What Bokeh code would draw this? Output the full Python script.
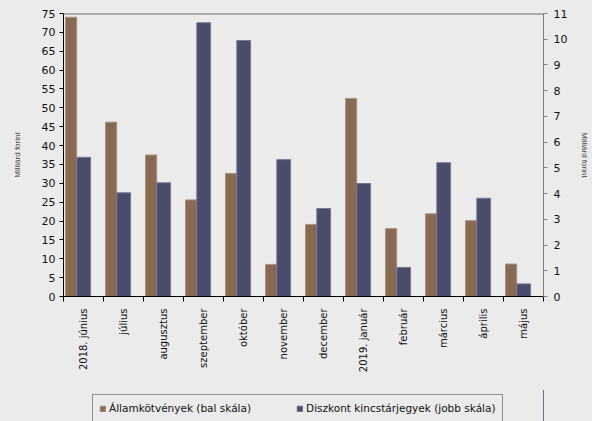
from math import pi
from bokeh.plotting import figure
from bokeh.layouts import column
from bokeh.models import (Range1d, LinearAxis, FixedTicker, ColumnDataSource,
                          Legend, LegendItem, Span)
from bokeh.transform import dodge
from bokeh.embed import file_html
from bokeh.resources import INLINE

categories = ["2018. június", "július", "augusztus", "szeptember", "október",
              "november", "december", "2019. január", "február", "március",
              "április", "május"]
allamkotvenyek = [74.0, 46.2, 37.5, 25.6, 32.6, 8.5, 19.1, 52.5, 18.0, 21.9, 20.1, 8.6]
diszkont = [5.41, 4.03, 4.42, 10.64, 9.95, 5.32, 3.42, 4.39, 1.13, 5.20, 3.82, 0.49]
left_ticks = [0, 5, 10, 15, 20, 25, 30, 35, 40, 45, 50, 55, 60, 65, 70, 75]
right_ticks = [0, 1, 2, 3, 4, 5, 6, 7, 8, 9, 10, 11]
label_left = "Államkötvények (bal skála)"
label_right = "Diszkont kincstárjegyek (jobb skála)"
axis_title = "Milliárd forint"

BG = "#EBEBEB"
BROWN = "#886A52"
BROWN_EDGE = "#A8917F"
BLUE = "#4B4B6B"
BLUE_EDGE = "#75759A"
FONT = "DejaVu Sans"

n = len(categories)
src = ColumnDataSource(dict(idx=[float(i) for i in range(n)], cat=categories,
                            allam=allamkotvenyek, disz=diszkont))

p = figure(width=592, height=390, output_backend="svg", toolbar_location=None,
           x_range=Range1d(0, n), y_range=Range1d(0, 75),
           background_fill_color=BG, border_fill_color=BG, outline_line_color=None,
           min_border_left=63, min_border_right=47, min_border_top=13,
           min_border_bottom=94)
p.extra_y_ranges = {"right": Range1d(0, 11)}
p.xgrid.visible = False
p.ygrid.visible = False

# x axis: labels at centres, ticks at category boundaries
xa = p.xaxis[0]
xa.ticker = FixedTicker(ticks=[i + 0.5 for i in range(n)], minor_ticks=list(range(n + 1)))
xa.major_label_overrides = {i + 0.5: c for i, c in enumerate(categories)}
xa.major_label_orientation = pi / 2
xa.major_tick_in = 0
xa.major_tick_out = 0
xa.minor_tick_in = 0
xa.minor_tick_out = 5
xa.minor_tick_line_color = "black"
xa.axis_line_color = "black"
xa.major_label_text_font = FONT
xa.major_label_text_font_size = "10px"
xa.major_label_text_color = "#111111"
xa.major_label_standoff = 7

ya = p.yaxis[0]
ya.ticker = FixedTicker(ticks=left_ticks)
ya.major_tick_in = 0
ya.major_tick_out = 4
ya.minor_tick_line_color = None
ya.axis_line_color = "black"
ya.major_tick_line_color = "black"
ya.major_label_text_font = FONT
ya.major_label_text_font_size = "11px"
ya.major_label_text_color = "#111111"
ya.major_label_standoff = 4
ya.axis_label = axis_title
ya.axis_label_text_font = "Liberation Sans"
ya.axis_label_text_font_size = "8px"
ya.axis_label_text_font_style = "normal"
ya.axis_label_text_color = "#444444"
ya.axis_label_standoff = 17

ra = LinearAxis(y_range_name="right", ticker=FixedTicker(ticks=right_ticks),
                axis_label=axis_title)
ra.major_tick_in = 0
ra.major_tick_out = 4
ra.minor_tick_line_color = None
ra.axis_line_color = "#808080"
ra.major_tick_line_color = "#808080"
ra.major_label_text_font = FONT
ra.major_label_text_font_size = "11px"
ra.major_label_text_color = "#111111"
ra.major_label_standoff = 6
ra.axis_label_text_font = "Liberation Sans"
ra.axis_label_text_font_size = "8px"
ra.axis_label_text_font_style = "normal"
ra.axis_label_text_color = "#444444"
ra.axis_label_standoff = 10
p.add_layout(ra, "right")

p.add_layout(Span(location=75, dimension="width", line_color="#6E6E6E", line_width=2))

r1 = p.vbar(x=dodge("idx", 0.19, range=p.x_range), top="allam", width=0.28, source=src,
            fill_color=BROWN, line_color=BROWN_EDGE, line_width=1)
r2 = p.vbar(x=dodge("idx", 0.505, range=p.x_range), top="disz", width=0.345, source=src,
            y_range_name="right", fill_color=BLUE, line_color=BLUE_EDGE, line_width=1)

# legend strip below the chart (its bars lie outside the strip's visible range)
pl = figure(width=592, height=31, output_backend="svg", toolbar_location=None,
            x_range=Range1d(-100, -99), y_range=Range1d(0, 1),
            background_fill_color=BG, border_fill_color=BG, outline_line_color=None,
            min_border=0)
pl.axis.visible = False
pl.xgrid.visible = False
pl.ygrid.visible = False
l1 = pl.vbar(x="idx", top="allam", width=0.28, source=src,
             fill_color=BROWN, line_color=BROWN_EDGE)
l2 = pl.vbar(x="idx", top="disz", width=0.345, source=src,
             fill_color=BLUE, line_color=BLUE_EDGE)

legend = Legend(items=[LegendItem(label=label_left, renderers=[l1]),
                       LegendItem(label=label_right, renderers=[l2])],
                orientation="horizontal", location=(29, -1),
                padding=6, spacing=45, glyph_width=7, glyph_height=7,
                label_standoff=3, label_height=14, margin=0,
                label_text_font=FONT, label_text_font_size="10.5px",
                label_text_color="#111111",
                border_line_color="#333333", border_line_width=1,
                background_fill_color=BG, background_fill_alpha=1.0)
pl.add_layout(legend)

layout = column(p, pl, spacing=0, styles={"background-color": BG})
open("out.html", "w").write(file_html(layout, INLINE))
